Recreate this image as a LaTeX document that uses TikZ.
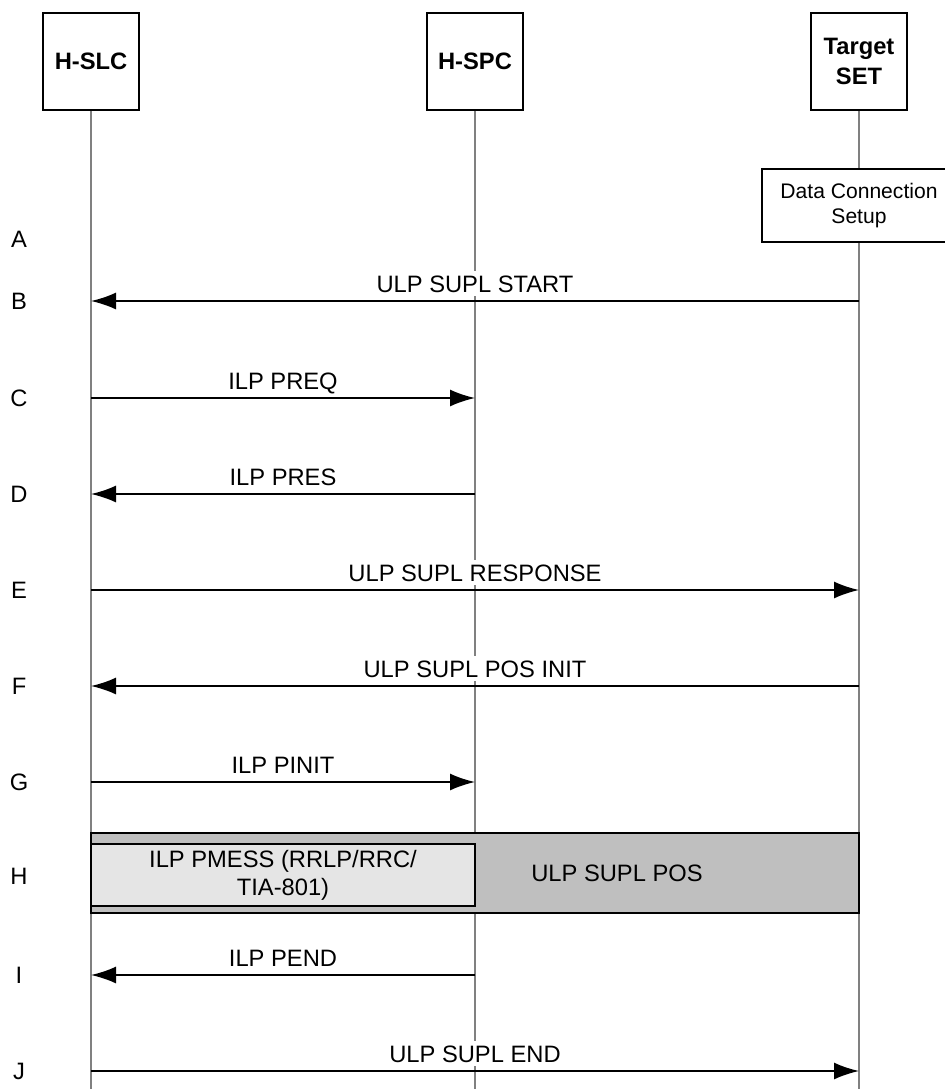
\documentclass[tikz,border=0pt]{standalone}
\usepackage{fontspec}
\setmainfont{Liberation Sans}
\usetikzlibrary{arrows.meta}

\begin{document}
\begin{tikzpicture}[
    every node/.style={font=\fontsize{13.5pt}{16pt}\selectfont},
    entity/.style={draw,line width=1pt,minimum width=1.92cm,minimum height=1.94cm,align=center,
      font=\fontsize{13.5pt}{17pt}\selectfont\bfseries},
    life/.style={draw=black!50,line width=0.6pt},
    msg/.style={line width=1pt,-{Latex[length=5mm,width=3.4mm]}},
    lbl/.style={anchor=base,yshift=0.18cm,fill=white,text depth=0pt,inner xsep=1pt,inner ysep=2.5pt},
    row/.style={inner sep=0pt}]
  \useasboundingbox (0,0) rectangle (18.9,-21.78);
  \node[entity](hslc)at(1.82,-1.23){H-SLC};
  \node[entity](hspc)at(9.5,-1.23){H-SPC};
  \node[entity](tset)at(17.18,-1.23){Target\\SET};
  \coordinate (bottom) at (0,-21.78);
  \draw[life](hslc.south)--(hslc |- bottom);
  \draw[life](hspc.south)--(hspc |- bottom);
  \draw[life](tset.south)--(tset |- bottom);
  \node[row](rA)at(0.38,-4.78){A};
  \node[row](rB)at(0.38,-6.02){B};
  \node[row](rC)at(0.38,-7.96){C};
  \node[row](rD)at(0.38,-9.88){D};
  \node[row](rE)at(0.38,-11.8){E};
  \node[row](rF)at(0.38,-13.72){F};
  \node[row](rG)at(0.38,-15.64){G};
  \node[row](rH)at(0.38,-17.52){H};
  \node[row](rI)at(0.38,-19.5){I};
  \node[row](rJ)at(0.38,-21.42){J};
  \node[draw,fill=white,line width=0.9pt,minimum width=3.88cm,minimum height=1.46cm,align=center,
    font=\fontsize{12pt}{14.4pt}\selectfont](dcs)at(17.18,-4.11){Data Connection\\Setup};
  \draw[msg](tset |- rB)--node[lbl]{ULP SUPL START}(hslc |- rB);
  \draw[msg](hslc |- rC)--node[lbl]{ILP PREQ}(hspc |- rC);
  \draw[msg](hspc |- rD)--node[lbl]{ILP PRES}(hslc |- rD);
  \draw[msg](hslc |- rE)--node[lbl]{ULP SUPL RESPONSE}(tset |- rE);
  \draw[msg](tset |- rF)--node[lbl]{ULP SUPL POS INIT}(hslc |- rF);
  \draw[msg](hslc |- rG)--node[lbl]{ILP PINIT}(hspc |- rG);
  \node[draw,fill=black!25,line width=0.9pt,minimum width=15.36cm,minimum height=1.6cm](pos)at(9.5,-17.46){};
  \node(posl)at(12.34,-17.46){ULP SUPL POS};
  \node[draw,fill=black!10,line width=0.9pt,minimum width=7.68cm,minimum height=1.2cm,align=center,
    font=\fontsize{13.5pt}{15.9pt}\selectfont](pmess)at(5.66,-17.5){ILP PMESS (RRLP/RRC/\\TIA-801)};
  \draw[msg](hspc |- rI)--node[lbl]{ILP PEND}(hslc |- rI);
  \draw[msg](hslc |- rJ)--node[lbl]{ULP SUPL END}(tset |- rJ);
\end{tikzpicture}
\end{document}
